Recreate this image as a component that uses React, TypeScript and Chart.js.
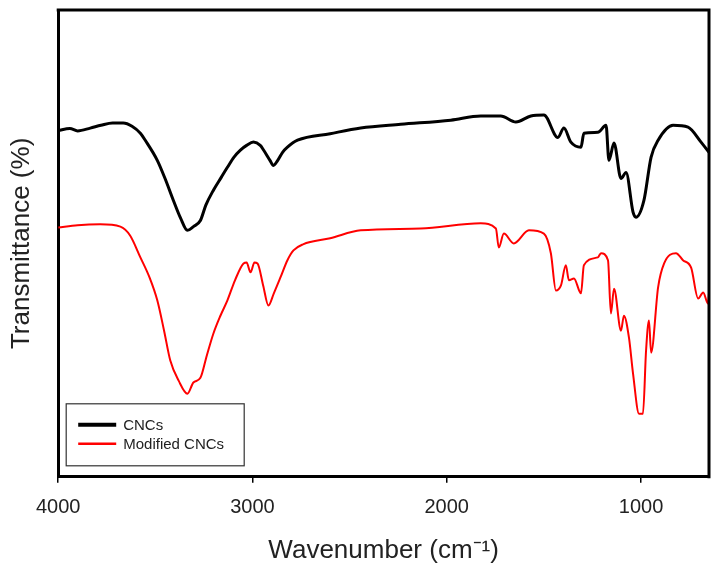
import React, { useEffect, useRef } from "react";
import { Chart, registerables } from "chart.js";

Chart.register(...registerables);

const FONT = "'Liberation Sans', Arial, sans-serif";

const xTicks = [4000, 3000, 2000, 1000];

const cncWavenumber = [
  4000, 3940, 3900, 3835, 3780, 3720, 3665, 3620, 3577, 3552, 3490, 3450, 3407, 3370, 3335, 3304,
  3268, 3240, 3201, 3160, 3129, 3095, 3062, 3030, 2995, 2960, 2943, 2910, 2892, 2870, 2845, 2820,
  2768, 2600, 2443, 2237, 1979, 1825, 1722, 1644, 1567, 1500, 1428, 1397, 1361, 1309, 1294, 1222,
  1180, 1165, 1139, 1103, 1077, 1041, 1026, 985, 948, 912, 835, 758, 691, 650,
];
const cncTransmittance = [
  74.2, 74.6, 74.1, 74.7, 75.3, 75.8, 75.8, 75.1, 73.6, 72.1, 67.8, 63.9, 59.2, 55.4, 52.8, 53.6,
  54.9, 58.2, 61.4, 64.2, 66.3, 68.5, 70.0, 71.0, 71.7, 71.0, 70.0, 67.8, 66.7, 67.8, 69.5, 70.6,
  72.1, 73.5, 74.7, 75.5, 76.4, 77.3, 77.3, 76.0, 77.3, 77.5, 72.7, 74.7, 71.7, 70.6, 73.6, 73.8,
  75.3, 67.8, 71.5, 63.9, 65.2, 56.7, 55.6, 59.2, 68.5, 72.1, 75.3, 74.9, 71.7, 69.5,
];

const modWavenumber = [
  4000, 3900, 3784, 3680, 3630, 3577, 3530, 3490, 3455, 3423, 3380, 3335, 3304, 3268, 3235, 3201,
  3165, 3129, 3090, 3046, 3030, 3010, 2990, 2974, 2945, 2918, 2890, 2856, 2820, 2789, 2740, 2600,
  2443, 2134, 1825, 1747, 1732, 1706, 1655, 1577, 1500, 1464, 1438, 1412, 1387, 1371, 1345, 1309,
  1294, 1222, 1206, 1170, 1155, 1139, 1103, 1088, 1062, 1041, 1010, 990, 974, 959, 948, 912,
  881, 820, 784, 742, 706, 680, 655, 650,
];
const modTransmittance = [
  53.4, 53.9, 54.1, 53.6, 51.7, 47.0, 42.7, 37.8, 31.3, 24.9, 20.6, 17.8, 20.2, 21.2, 26.0, 30.7,
  34.5, 37.8, 42.1, 45.7, 45.9, 43.8, 45.9, 45.7, 41.0, 36.7, 39.3, 42.7, 46.4, 48.5, 49.8, 51.1,
  52.8, 53.2, 54.3, 53.2, 49.1, 52.1, 50.0, 52.8, 52.1, 47.9, 39.9, 41.0, 45.3, 42.1, 42.5, 39.3,
  45.3, 47.0, 47.9, 46.4, 35.0, 40.3, 31.3, 34.5, 29.8, 22.1, 13.5, 13.5, 27.0, 33.5, 26.6, 40.6,
  45.7, 47.9, 46.4, 44.8, 38.2, 39.5, 37.1, 39.3,
];

const seriesLabels = ["CNCs", "Modified CNCs"];
const seriesColors = ["#000000", "#ff0000"];
const seriesWidths = [3, 2];

const framePlugin = {
  id: "frame",
  afterDraw(chart: any) {
    const { ctx, chartArea } = chart;
    ctx.save();
    ctx.strokeStyle = "#000";
    ctx.lineWidth = 3;
    ctx.beginPath();
    ctx.moveTo(chartArea.left - 1.5, chartArea.top);
    ctx.lineTo(chartArea.right, chartArea.top);
    ctx.lineTo(chartArea.right, chartArea.bottom + 1.5);
    ctx.stroke();
    ctx.restore();
  },
};

const legendBoxPlugin = {
  id: "legendBox",
  afterDraw(chart: any) {
    const { ctx, chartArea } = chart;
    const left = chartArea.left + 8;
    const w = 178;
    const h = 62;
    const top = chartArea.bottom - 11 - h;
    ctx.save();
    ctx.fillStyle = "#fff";
    ctx.fillRect(left, top, w, h);
    ctx.strokeStyle = "#333";
    ctx.lineWidth = 1.2;
    ctx.strokeRect(left, top, w, h);
    ctx.font = `15px ${FONT}`;
    ctx.textBaseline = "middle";
    chart.data.datasets.forEach((ds: any, i: number) => {
      const y = top + 21 + i * 19;
      ctx.strokeStyle = ds.borderColor;
      ctx.lineWidth = i === 0 ? 4 : 2.5;
      ctx.beginPath();
      ctx.moveTo(left + 12, y);
      ctx.lineTo(left + 50, y);
      ctx.stroke();
      ctx.fillStyle = "#222";
      ctx.fillText(ds.label, left + 57, y + 1);
    });
    ctx.restore();
  },
};

export default function App() {
  const ref = useRef<HTMLCanvasElement | null>(null);
  useEffect(() => {
    document.body.style.margin = "0";
    const canvas = ref.current;
    if (!canvas) return;
    const series = [
      cncWavenumber.map((x, i) => ({ x, y: cncTransmittance[i] })),
      modWavenumber.map((x, i) => ({ x, y: modTransmittance[i] })),
    ];
    const chart = new Chart(canvas, {
      type: "line",
      data: {
        datasets: series.map((data, i) => ({
          label: seriesLabels[i],
          data,
          borderColor: seriesColors[i],
          backgroundColor: seriesColors[i],
          borderWidth: seriesWidths[i],
          pointRadius: 0,
          cubicInterpolationMode: "monotone",
          fill: false,
        })),
      },
      options: {
        animation: false,
        responsive: false,
        devicePixelRatio: 1,
        layout: { padding: { left: 0, right: 14, top: 10, bottom: 0 } },
        plugins: { legend: { display: false }, tooltip: { enabled: false } },
        scales: {
          x: {
            type: "linear",
            reverse: true,
            min: 650,
            max: 4000,
            afterBuildTicks: (scale: any) => {
              scale.ticks = xTicks.map((v) => ({ value: v }));
            },
            ticks: {
              includeBounds: false,
              font: { family: FONT, size: 20 },
              color: "#222",
              padding: 13,
              maxRotation: 0,
              callback: (v: any) => String(v),
            },
            grid: {
              drawOnChartArea: false,
              drawTicks: true,
              tickLength: 6,
              color: "#000",
              lineWidth: 1.5,
            },
            border: { display: true, color: "#000", width: 3 },
            title: {
              display: true,
              text: "Wavenumber (cm⁻¹)",
              font: { family: FONT, size: 26 },
              color: "#222",
              padding: { top: 2, bottom: 8 },
            },
          },
          y: {
            type: "linear",
            min: 0,
            max: 100,
            ticks: { display: false },
            grid: { display: false },
            border: { display: true, color: "#000", width: 3 },
            title: {
              display: true,
              text: "Transmittance (%)",
              font: { family: FONT, size: 26 },
              color: "#222",
              padding: { top: 6, bottom: 13 },
            },
          },
        },
      },
      plugins: [framePlugin, legendBoxPlugin],
    } as any);
    return () => chart.destroy();
  }, []);
  return (
    <div style={{ width: 723, height: 574, background: "#fff" }}>
      <canvas ref={ref} width={723} height={574} />
    </div>
  );
}
